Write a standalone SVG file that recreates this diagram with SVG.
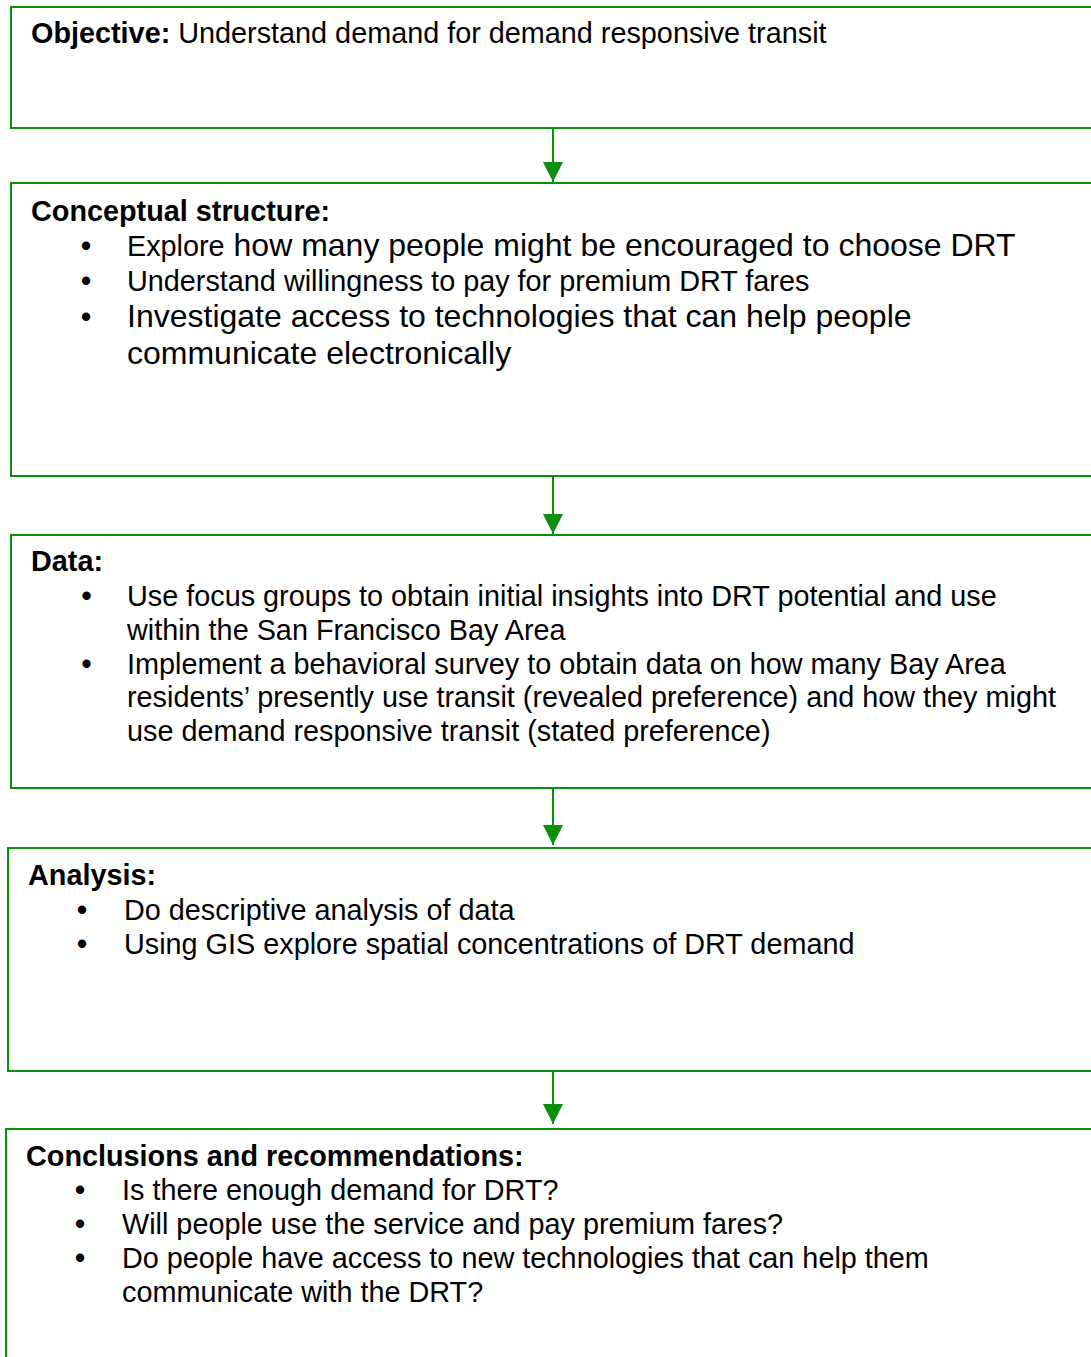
<svg xmlns="http://www.w3.org/2000/svg" width="1091" height="1357" viewBox="0 0 1091 1357">
<defs>
<style>
.box{fill:#ffffff;stroke:#0a8f0a;stroke-width:2}
.t{font-family:"Liberation Sans",Arial,sans-serif;font-size:28.8px;fill:#000}
.b{font-weight:bold}
.big{font-size:32px}
.bul{text-anchor:middle;font-weight:bold}
.conn{stroke:#0a8f0a;stroke-width:2;fill:none}
</style>
<marker id="ah" viewBox="0 0 20 20" markerWidth="20" markerHeight="20" refX="20" refY="10" orient="auto" markerUnits="userSpaceOnUse">
<path d="M0,0 L20,10 L0,20 z" fill="#0a8f0a"/>
</marker>
</defs>
<rect width="1091" height="1357" fill="#ffffff"/>

<g id="connectors">
<line class="conn" x1="553" y1="128" x2="553" y2="182" marker-end="url(#ah)"/>
<line class="conn" x1="553" y1="476" x2="553" y2="534" marker-end="url(#ah)"/>
<line class="conn" x1="553" y1="788" x2="553" y2="845" marker-end="url(#ah)"/>
<line class="conn" x1="553" y1="1068" x2="553" y2="1124" marker-end="url(#ah)"/>
</g>

<g id="objective">
<rect class="box" x="11" y="7" width="1100" height="121"/>
<text class="t" x="31" y="42.5"><tspan class="b">Objective:</tspan> Understand demand for demand responsive transit</text>
</g>

<g id="conceptual">
<rect class="box" x="11" y="183" width="1100" height="293"/>
<text class="t b" x="31" y="221">Conceptual structure:</text>
<text class="t bul" x="86" y="256">•</text>
<text class="t" x="127" y="256">Explore<tspan class="big"> how many people might be encouraged to choose DRT</tspan></text>
<text class="t bul" x="86" y="290.5">•</text>
<text class="t" x="127" y="290.5">Understand willingness to pay for premium DRT fares</text>
<text class="t bul" x="86" y="327">•</text>
<text class="t big" x="127" y="327">Investigate access to technologies that can help people</text>
<text class="t big" x="127" y="363.5">communicate electronically</text>
</g>

<g id="data">
<rect class="box" x="11" y="535" width="1100" height="253"/>
<text class="t b" x="31" y="571">Data:</text>
<text class="t bul" x="86.5" y="606">•</text>
<text class="t" x="127" y="606">Use focus groups to obtain initial insights into DRT potential and use</text>
<text class="t" x="127" y="640">within the San Francisco Bay Area</text>
<text class="t bul" x="86.5" y="673.5">•</text>
<text class="t" x="127" y="673.5">Implement a behavioral survey to obtain data on how many Bay Area</text>
<text class="t" x="127" y="707">residents’ presently use transit (revealed preference) and how they might</text>
<text class="t" x="127" y="741">use demand responsive transit (stated preference)</text>
</g>

<g id="analysis">
<rect class="box" x="8" y="848" width="1100" height="223"/>
<text class="t b" x="28" y="885">Analysis:</text>
<text class="t bul" x="82" y="920">•</text>
<text class="t" x="124" y="920">Do descriptive analysis of data</text>
<text class="t bul" x="82" y="953.5">•</text>
<text class="t" x="124" y="953.5">Using GIS explore spatial concentrations of DRT demand</text>
</g>

<g id="conclusions">
<rect class="box" x="6" y="1129" width="1100" height="260"/>
<text class="t b" x="26" y="1166">Conclusions and recommendations:</text>
<text class="t bul" x="80" y="1200">•</text>
<text class="t" x="122" y="1200">Is there enough demand for DRT?</text>
<text class="t bul" x="80" y="1233.5">•</text>
<text class="t" x="122" y="1233.5">Will people use the service and pay premium fares?</text>
<text class="t bul" x="80" y="1267.5">•</text>
<text class="t" x="122" y="1267.5">Do people have access to new technologies that can help them</text>
<text class="t" x="122" y="1301.5">communicate with the DRT?</text>
</g>
</svg>
